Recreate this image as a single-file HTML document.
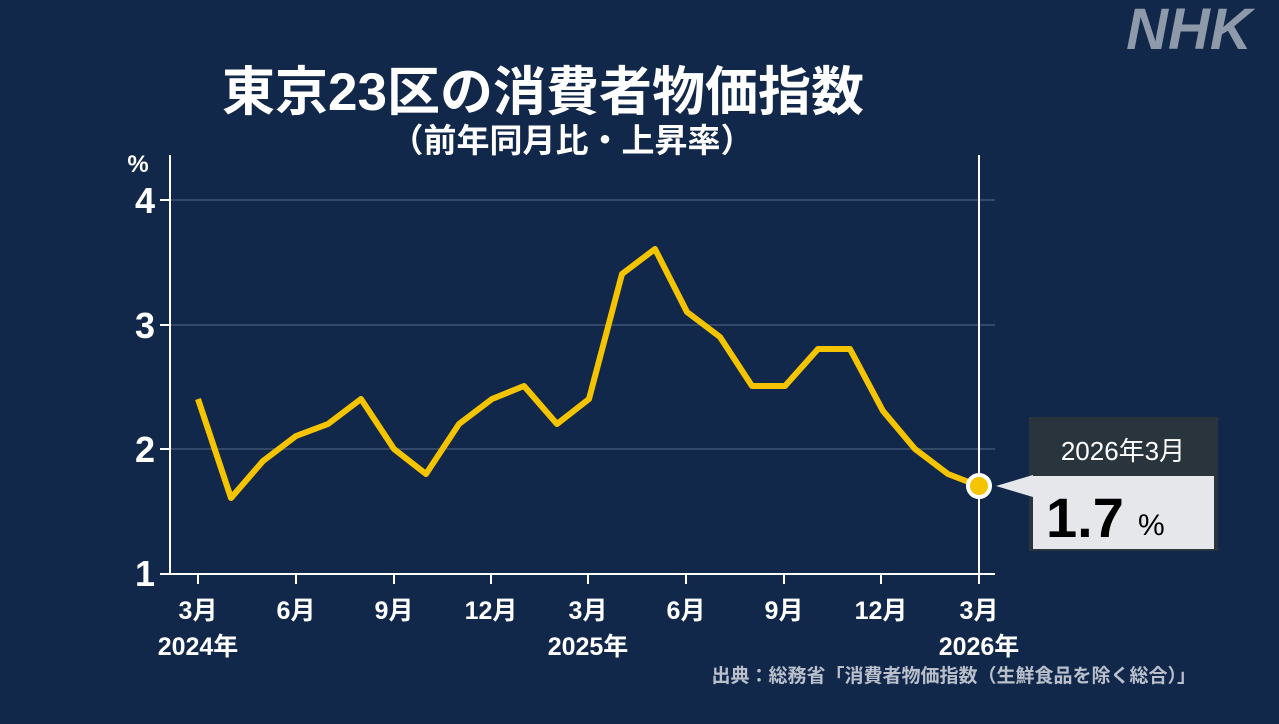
<!DOCTYPE html><html><head><meta charset="utf-8"><style>
body{margin:0;width:1279px;height:719px;background:#12284a;overflow:hidden}
text{font-family:"Liberation Sans","Noto Sans CJK JP",sans-serif}
</style></head><body>
<svg width="1279" height="719" viewBox="0 0 1279 719">
<rect width="1279" height="719" fill="#12284a"/>
<text x="1189" y="49" font-size="58" font-weight="bold" font-style="italic" fill="#8e9aaa" text-anchor="middle">NHK</text>
<text x="543" y="110" font-size="53" font-weight="bold" fill="#fff" text-anchor="middle">東京23区の消費者物価指数</text>
<text x="572" y="152" font-size="33" font-weight="bold" fill="#fff" text-anchor="middle">（前年同月比・上昇率）</text>
<g stroke="#34496a" stroke-width="2"><line x1="170" y1="200" x2="995" y2="200"/><line x1="170" y1="325" x2="995" y2="325"/><line x1="170" y1="449" x2="995" y2="449"/></g>
<g stroke="#fff" stroke-width="2"><line x1="170" y1="155" x2="170" y2="575"/><line x1="160" y1="574" x2="995" y2="574"/><line x1="160" y1="200" x2="170" y2="200"/><line x1="160" y1="325" x2="170" y2="325"/><line x1="160" y1="449" x2="170" y2="449"/>
<line x1="979" y1="155" x2="979" y2="584"/>
<line x1="198" y1="574" x2="198" y2="584"/><line x1="296" y1="574" x2="296" y2="584"/><line x1="394" y1="574" x2="394" y2="584"/><line x1="491" y1="574" x2="491" y2="584"/><line x1="588" y1="574" x2="588" y2="584"/><line x1="686" y1="574" x2="686" y2="584"/><line x1="784" y1="574" x2="784" y2="584"/><line x1="881" y1="574" x2="881" y2="584"/></g>
<g fill="#fff" font-size="36" font-weight="bold" text-anchor="end"><text x="155" y="213">4</text><text x="155" y="338">3</text><text x="155" y="462">2</text><text x="155" y="586">1</text></g>
<text x="138" y="172" fill="#fff" font-size="24" font-weight="bold" text-anchor="middle">%</text>
<g fill="#fff" font-size="25" font-weight="bold" text-anchor="middle"><text x="198" y="619">3月</text><text x="296" y="619">6月</text><text x="394" y="619">9月</text><text x="491" y="619">12月</text><text x="588" y="619">3月</text><text x="686" y="619">6月</text><text x="784" y="619">9月</text><text x="881" y="619">12月</text><text x="979" y="619">3月</text>
<text x="198" y="655">2024年</text><text x="588" y="655">2025年</text><text x="979" y="655">2026年</text></g>
<text x="1196" y="682" fill="#b9c0cc" font-size="19" font-weight="bold" text-anchor="end">出典：総務省「消費者物価指数（生鮮食品を除く総合）」</text>
<polyline fill="none" stroke="#f5c400" stroke-width="6" stroke-linejoin="round" points="198,399 231,498 263,461 296,436 328,424 361,399 394,449 426,474 459,424 492,399 524,386 557,424 589,399 622,274 655,249 687,312 720,337 752,386 785,386 818,349 850,349 883,411 915,449 948,474 979,486"/>
<circle cx="979" cy="486" r="11" fill="#f5c400" stroke="#fff" stroke-width="4"/>
<rect x="1029" y="417" width="189" height="134" fill="#2a343c"/>
<rect x="1033" y="476" width="181" height="73" fill="#e6e7eb"/>
<polygon points="996,486 1033,475 1033,497" fill="#e6e7eb"/>
<text x="1123" y="460" fill="#fff" font-size="26" text-anchor="middle">2026年3月</text>
<text x="1046" y="537" fill="#000" font-size="56" font-weight="bold">1.7</text>
<text x="1138" y="535" fill="#000" font-size="30">%</text>
</svg></body></html>
